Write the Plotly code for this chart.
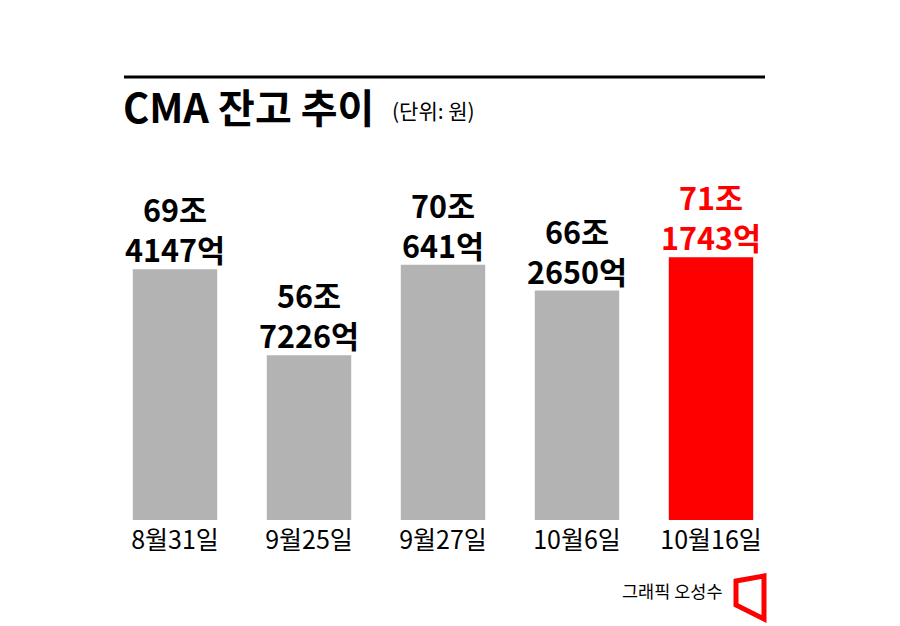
import plotly.graph_objects as go

# CMA 잔고 (조 원)
dates = ['8월31일', '9월25일', '9월27일', '10월6일', '10월16일']
jo = [69, 56, 70, 66, 71]
eok = [4147, 7226, 641, 2650, 1743]
values = [j + e / 10000 for j, e in zip(jo, eok)]
colors = ['#b3b3b3', '#b3b3b3', '#b3b3b3', '#b3b3b3', '#ff0000']

W, H = 900, 626
OFF = 8  # page margin of the browser
L, R, T, B = 108 - OFF, 122 + OFF, 150 - OFF, 106 + OFF
PW, PH = W - L - R, H - T - B


def px(x):
    return (x - OFF - L) / PW


def py(y):
    return (H - B - (y - OFF)) / PH


FONT = 'Noto Sans CJK KR'

fig = go.Figure()
fig.add_trace(go.Bar(x=dates, y=values, marker_color=colors,
                     marker_line_width=0, hoverinfo='skip'))

annotations = []
for d, j, e, v, c in zip(dates, jo, eok, values, colors):
    txtc = 'red' if c == '#ff0000' else 'black'
    annotations.append(dict(x=d, y=v, text=f'{j}조<br>{e}억', showarrow=False,
                            xanchor='center', yanchor='bottom', yshift=-4,
                            font=dict(family=FONT, size=30.5, color=txtc, weight='bold')))

annotations.append(dict(x=px(121), y=py(106), xref='paper', yref='paper',
                        text='CMA 잔고 추이', showarrow=False, xanchor='left', yanchor='middle',
                        font=dict(family=FONT, size=40, color='black', weight='bold')))
annotations.append(dict(x=px(390), y=py(110), xref='paper', yref='paper',
                        text='(단위: 원)', showarrow=False, xanchor='left', yanchor='middle',
                        font=dict(family=FONT, size=21, color='black')))
annotations.append(dict(x=px(725), y=py(590), xref='paper', yref='paper',
                        text='그래픽 오성수', showarrow=False, xanchor='right', yanchor='middle',
                        font=dict(family=FONT, size=17.5, color='black')))

shapes = [
    dict(type='line', xref='paper', yref='paper', x0=px(124), x1=px(765),
         y0=py(77), y1=py(77), line=dict(color='black', width=3)),
    dict(type='path', xref='paper', yref='paper',
         path=f'M {px(736)},{py(581)} L {px(764)},{py(576)} L {px(764)},{py(619)} '
              f'L {px(736)},{py(605)} Z',
         line=dict(color='#ff0000', width=5), fillcolor='rgba(0,0,0,0)'),
]

fig.update_layout(
    width=W, height=H,
    margin=dict(l=L, r=R, t=T, b=B),
    paper_bgcolor='white', plot_bgcolor='white',
    showlegend=False, bargap=0.37,
    annotations=annotations, shapes=shapes,
    xaxis=dict(showgrid=False, zeroline=False, showline=False, ticks='',
               ticklabelstandoff=3,
               tickfont=dict(family=FONT, size=25, color='black')),
    yaxis=dict(range=[32.4, 87.0], visible=False),
)

fig.write_html('out.html')
